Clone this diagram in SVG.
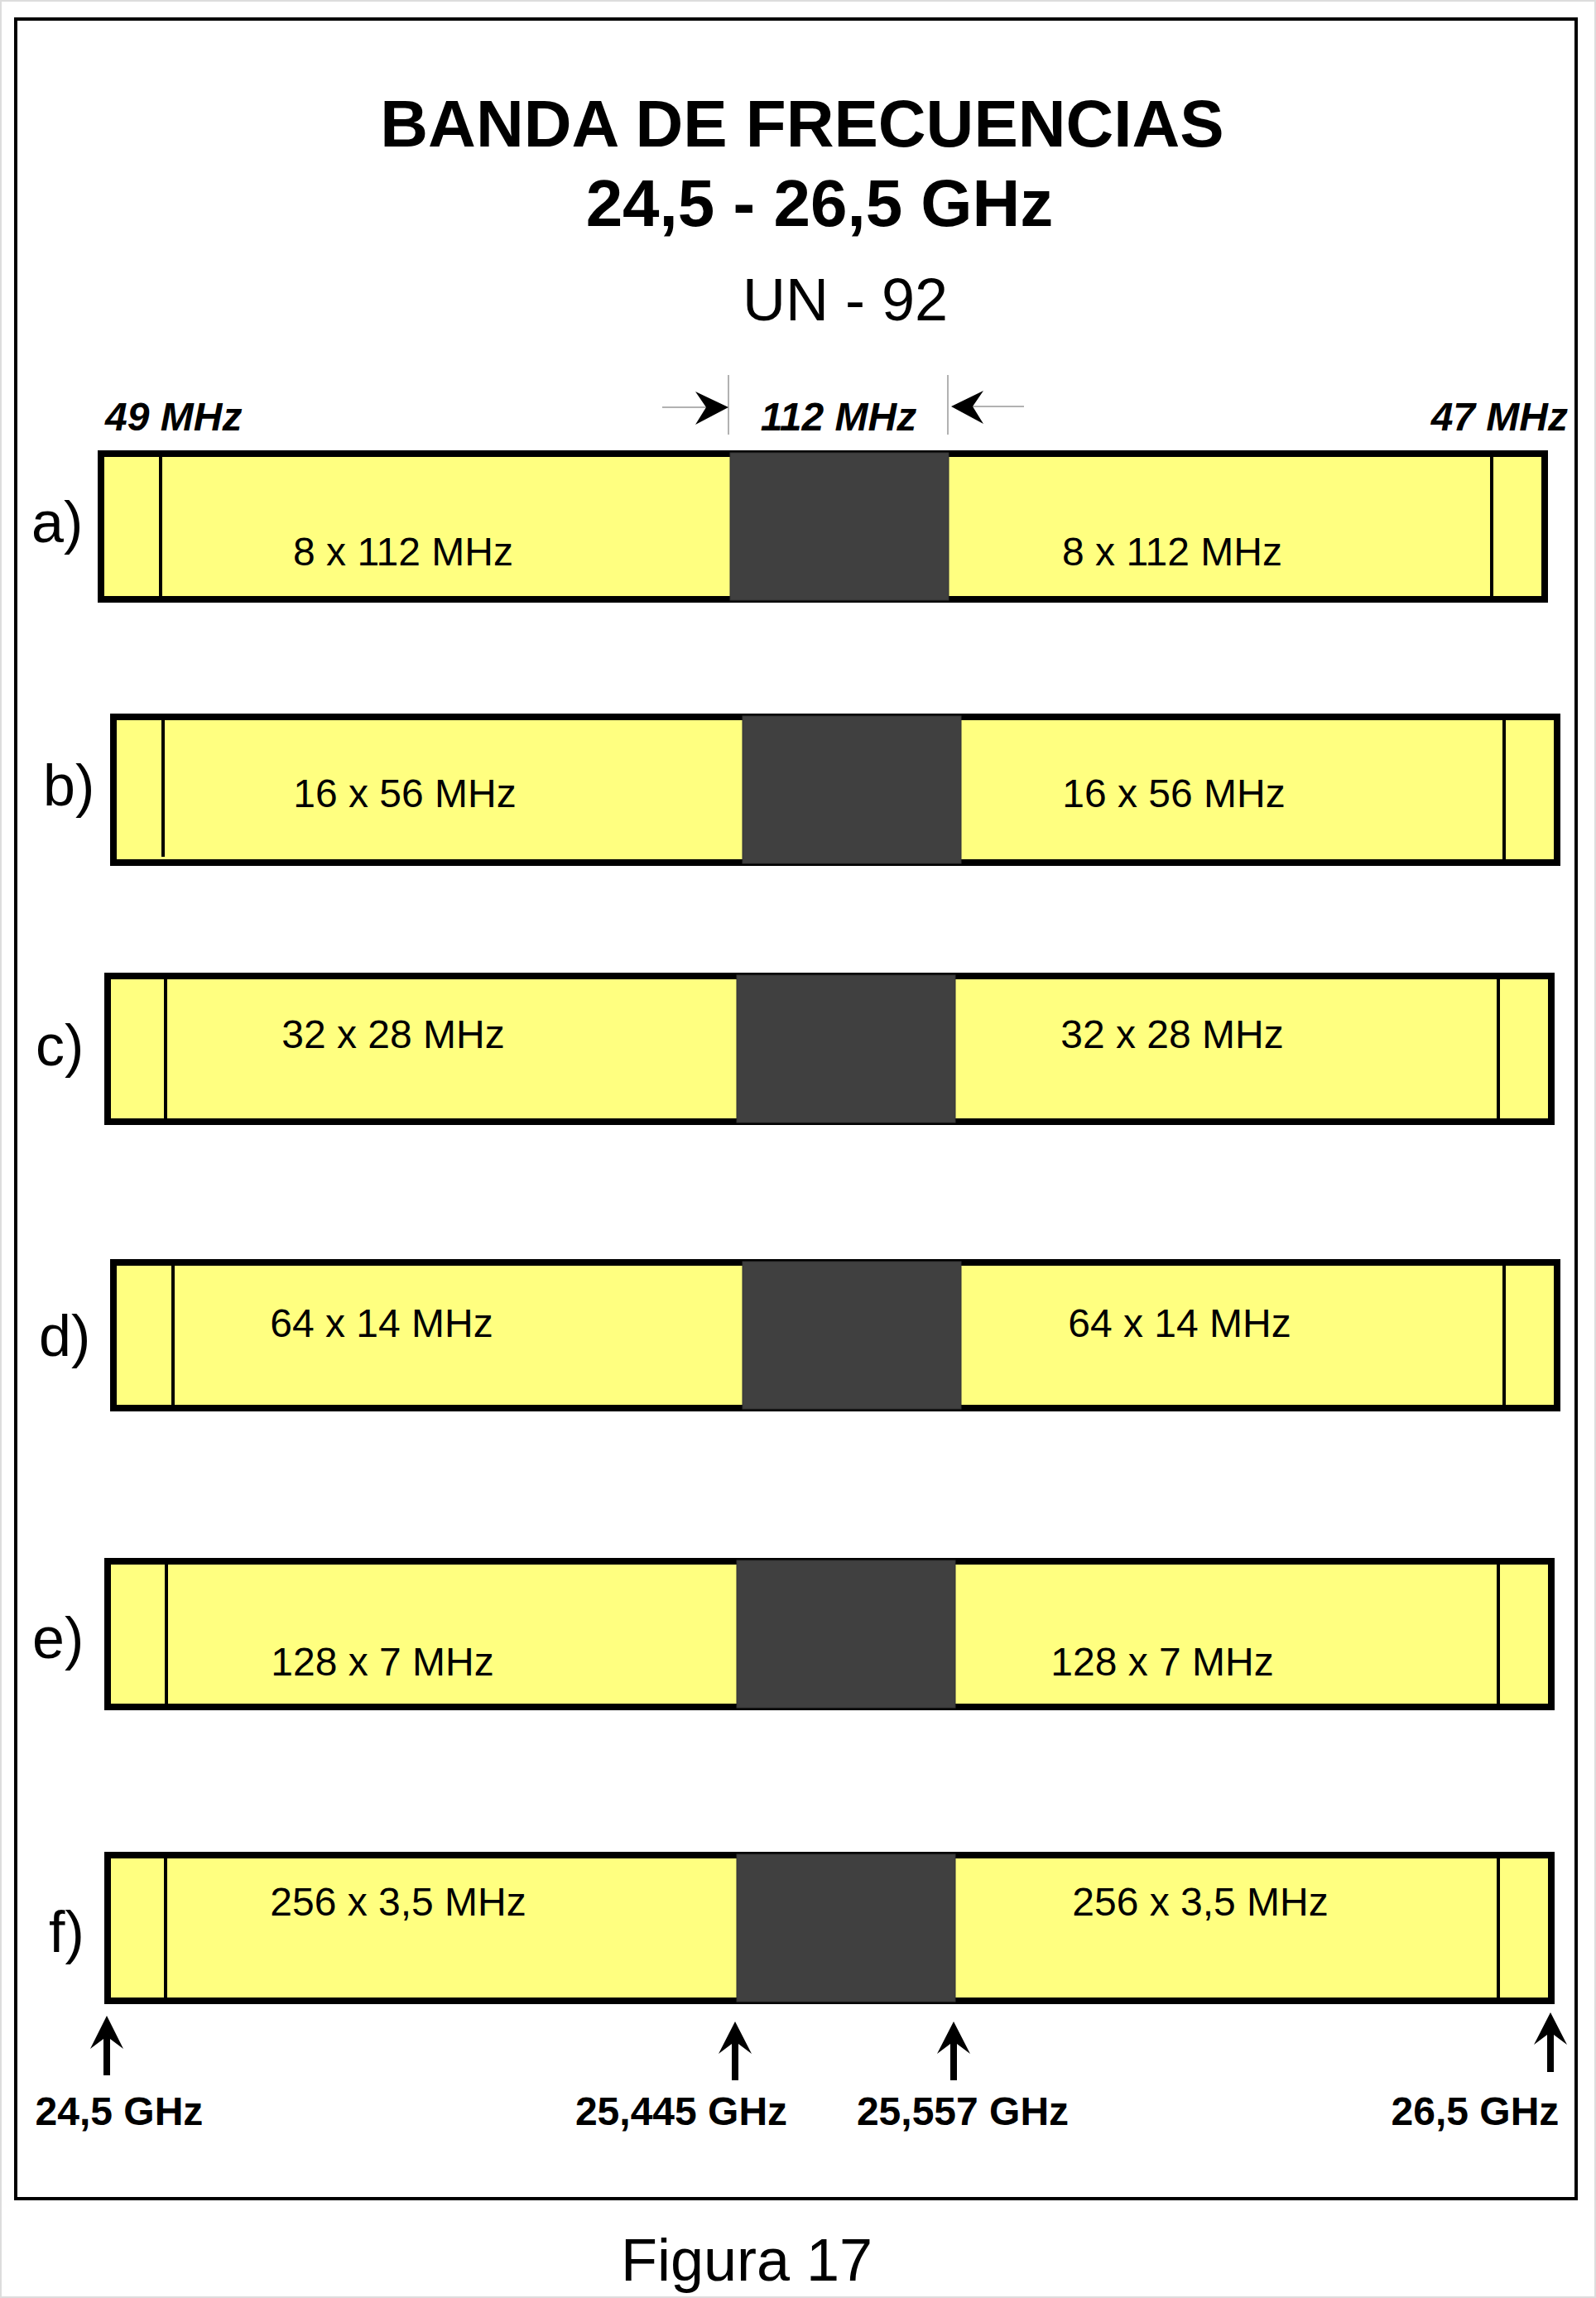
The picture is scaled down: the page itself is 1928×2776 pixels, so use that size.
<svg xmlns="http://www.w3.org/2000/svg" width="1928" height="2776" viewBox="0 0 1928 2776">
<style>
text{font-family:"Liberation Sans",Arial,sans-serif;fill:#000}
.title{font-size:80px;font-weight:bold;text-anchor:middle}
.sub{font-size:72px;text-anchor:middle}
.dim{font-size:48px;font-weight:bold;font-style:italic}
.row{font-size:70px}
.lbl{font-size:48px;text-anchor:middle}
.freq{font-size:48px;font-weight:bold;text-anchor:middle}
.bar{fill:#ffff80;stroke:#000;stroke-width:8}
.div{stroke:#000;stroke-width:4}
.gap{fill:#404040;stroke:#333;stroke-width:1}
.guide{stroke:#999;stroke-width:1.5}
</style>
<rect x="1" y="1" width="1926" height="2774" fill="#fff" stroke="#ddd" stroke-width="2"/>
<rect x="19" y="23" width="1885" height="2633" fill="none" stroke="#000" stroke-width="4"/>
<g id="title">
<text class="title" x="969" y="177">BANDA DE FRECUENCIAS</text>
<text class="title" x="990" y="273">24,5 - 26,5 GHz</text>
<text class="sub" x="1021" y="387">UN - 92</text>
</g>
<g id="dimensions">
<text class="dim" x="127" y="520">49 MHz</text>
<text class="dim" x="1013" y="520" text-anchor="middle">112 MHz</text>
<text class="dim" x="1894" y="520" text-anchor="end">47 MHz</text>
<line class="guide" x1="880" y1="453" x2="880" y2="525"/>
<line class="guide" x1="1145" y1="453" x2="1145" y2="525"/>
<line class="guide" x1="800" y1="492" x2="860" y2="492"/>
<path d="M880,492 L840,473 L853,492 L840,513 Z" fill="#000"/>
<line class="guide" x1="1170" y1="491" x2="1237" y2="491"/>
<path d="M1149,491 L1188,472 L1175,491 L1188,512 Z" fill="#000"/>
</g>
<g id="row-a">
<rect class="bar" x="122" y="548" width="1744" height="176"/>
<line class="div" x1="194" y1="552" x2="194" y2="720"/>
<line class="div" x1="1802" y1="552" x2="1802" y2="720"/>
<rect class="gap" x="882" y="547" width="264" height="178"/>
<text class="row" x="38" y="655">a)</text>
<text class="lbl" x="487" y="683">8 x 112 MHz</text>
<text class="lbl" x="1416" y="683">8 x 112 MHz</text>
</g>
<g id="row-b">
<rect class="bar" x="137" y="866" width="1744" height="176"/>
<line class="div" x1="197" y1="870" x2="197" y2="1035"/>
<line class="div" x1="1817" y1="870" x2="1817" y2="1038"/>
<rect class="gap" x="897" y="865" width="264" height="178"/>
<text class="row" x="52" y="973">b)</text>
<text class="lbl" x="489" y="975">16 x 56 MHz</text>
<text class="lbl" x="1418" y="975">16 x 56 MHz</text>
</g>
<g id="row-c">
<rect class="bar" x="130" y="1179" width="1744" height="176"/>
<line class="div" x1="200" y1="1183" x2="200" y2="1351"/>
<line class="div" x1="1810" y1="1183" x2="1810" y2="1351"/>
<rect class="gap" x="890" y="1178" width="264" height="178"/>
<text class="row" x="43" y="1287">c)</text>
<text class="lbl" x="475" y="1266">32 x 28 MHz</text>
<text class="lbl" x="1416" y="1266">32 x 28 MHz</text>
</g>
<g id="row-d">
<rect class="bar" x="137" y="1525" width="1744" height="176"/>
<line class="div" x1="209" y1="1529" x2="209" y2="1697"/>
<line class="div" x1="1817" y1="1529" x2="1817" y2="1697"/>
<rect class="gap" x="897" y="1524" width="264" height="178"/>
<text class="row" x="47" y="1638">d)</text>
<text class="lbl" x="461" y="1615">64 x 14 MHz</text>
<text class="lbl" x="1425" y="1615">64 x 14 MHz</text>
</g>
<g id="row-e">
<rect class="bar" x="130" y="1886" width="1744" height="176"/>
<line class="div" x1="201" y1="1890" x2="201" y2="2058"/>
<line class="div" x1="1810" y1="1890" x2="1810" y2="2058"/>
<rect class="gap" x="890" y="1885" width="264" height="178"/>
<text class="row" x="39" y="2003">e)</text>
<text class="lbl" x="462" y="2024">128 x 7 MHz</text>
<text class="lbl" x="1404" y="2024">128 x 7 MHz</text>
</g>
<g id="row-f">
<rect class="bar" x="130" y="2241" width="1744" height="176"/>
<line class="div" x1="200" y1="2245" x2="200" y2="2413"/>
<line class="div" x1="1810" y1="2245" x2="1810" y2="2413"/>
<rect class="gap" x="890" y="2240" width="264" height="178"/>
<text class="row" x="59" y="2358">f)</text>
<text class="lbl" x="481" y="2314">256 x 3,5 MHz</text>
<text class="lbl" x="1450" y="2314">256 x 3,5 MHz</text>
</g>
<g id="markers">
<path d="M129,2435 L149,2475 L133,2463 L133,2507 L125,2507 L125,2463 L109,2475 Z" fill="#000"/>
<path d="M888,2442 L908,2481 L892,2469 L892,2513 L884,2513 L884,2469 L868,2481 Z" fill="#000"/>
<path d="M1152,2442 L1172,2481 L1156,2469 L1156,2513 L1148,2513 L1148,2469 L1132,2481 Z" fill="#000"/>
<path d="M1873,2431 L1893,2470 L1877,2458 L1877,2503 L1869,2503 L1869,2458 L1853,2470 Z" fill="#000"/>
<text class="freq" x="144" y="2567">24,5 GHz</text>
<text class="freq" x="823" y="2567">25,445 GHz</text>
<text class="freq" x="1163" y="2567">25,557 GHz</text>
<text class="freq" x="1782" y="2567">26,5 GHz</text>
</g>
<text class="sub" x="902" y="2755">Figura 17</text>
</svg>
